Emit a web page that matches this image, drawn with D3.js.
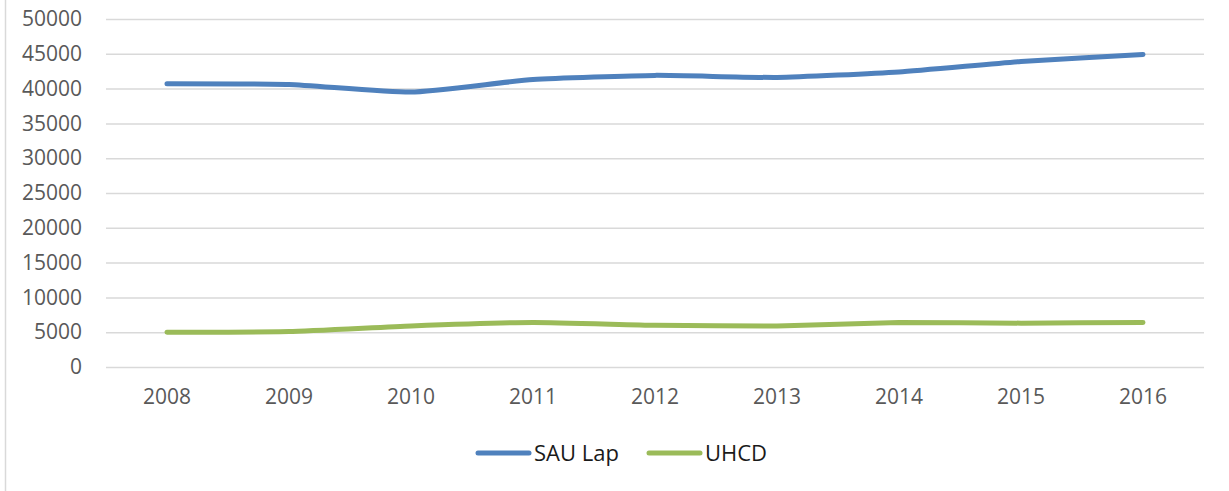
<!DOCTYPE html>
<html>
<head>
<meta charset="utf-8">
<script src="https://cdn.jsdelivr.net/npm/d3@7"></script>
<style>
  body { margin: 0; background: #fff; }
  svg { display: block; font-family: "Open Sans", sans-serif; }
</style>
</head>
<body>
<div id="chart"></div>
<script>
// --- DATA ---
const years = ["2008", "2009", "2010", "2011", "2012", "2013", "2014", "2015", "2016"];
const sauLap = [40700, 40600, 39500, 41300, 41900, 41600, 42400, 43900, 44900];
const uhcd = [5000, 5100, 5900, 6400, 6000, 5900, 6400, 6300, 6400];
const yTicks = [0, 5000, 10000, 15000, 20000, 25000, 30000, 35000, 40000, 45000, 50000];

const series = [
    { name: "SAU Lap", values: sauLap, color: "#4F81BD" },
    { name: "UHCD", values: uhcd, color: "#9BBB59" }
];

// --- DIMENSIONS ---
const width = 1229, height = 491;
const margin = { top: 19, right: 25, bottom: 124, left: 106 };
const boundsWidth = width - margin.left - margin.right;
const boundsHeight = height - margin.top - margin.bottom;

const svg = d3.select("#chart").append("svg")
    .attr("width", width).attr("height", height);

// outer frame (only the left edge is visible)
svg.append("line")
    .attr("x1", 5.5).attr("x2", 5.5).attr("y1", 0).attr("y2", height)
    .attr("stroke", "#d9d9d9").attr("stroke-width", 1.5);

const bounds = svg.append("g")
    .attr("transform", `translate(${margin.left},${margin.top})`);

// --- SCALES ---
const xScale = d3.scaleBand().domain(years).range([0, boundsWidth]);
const yScale = d3.scaleLinear().domain([0, 50000]).range([boundsHeight, 0]);

// --- GRID + Y AXIS ---
const yAxis = bounds.append("g")
    .call(d3.axisLeft(yScale).tickValues(yTicks).tickFormat(d3.format("d"))
        .tickSize(-boundsWidth).tickPadding(24));
yAxis.select(".domain").remove();
yAxis.selectAll(".tick line").attr("stroke", "#d9d9d9").attr("stroke-width", 1.5);
yAxis.selectAll(".tick text")
    .attr("fill", "#595959").style("font-size", "21px").style("font-family", "'Open Sans', sans-serif");

// --- X AXIS ---
const xAxis = bounds.append("g")
    .attr("transform", `translate(0,${boundsHeight})`)
    .call(d3.axisBottom(xScale).tickSize(0).tickPadding(22));
xAxis.select(".domain").remove();
xAxis.selectAll(".tick text")
    .attr("fill", "#595959").style("font-size", "21px").style("font-family", "'Open Sans', sans-serif");

// --- LINES ---
// Excel-style light smoothing
const line = d3.line()
    .x((d, i) => xScale(years[i]) + xScale.bandwidth() / 2)
    .y(d => yScale(d))
    .curve(d3.curveCardinal.tension(0.5));

bounds.selectAll(".line-path")
    .data(series).enter().append("path")
    .attr("class", "line-path")
    .attr("fill", "none")
    .attr("stroke", d => d.color)
    .attr("stroke-width", 5)
    .attr("stroke-linecap", "round")
    .attr("stroke-linejoin", "round")
    .attr("d", d => line(d.values));

// --- LEGEND ---
const legend = svg.append("g").attr("transform", "translate(476,453)");
const legendX = [0, 171];
series.forEach((s, i) => {
    const g = legend.append("g").attr("transform", `translate(${legendX[i]},0)`);
    g.append("line")
        .attr("x1", 2).attr("x2", 53).attr("y1", 0).attr("y2", 0)
        .attr("stroke", s.color).attr("stroke-width", 5).attr("stroke-linecap", "round");
    g.append("text")
        .attr("x", 58).attr("y", 0).attr("dy", "0.35em")
        .attr("fill", "#1a1a1a").style("font-size", "22px")
        .text(s.name);
});
</script>
</body>
</html>
